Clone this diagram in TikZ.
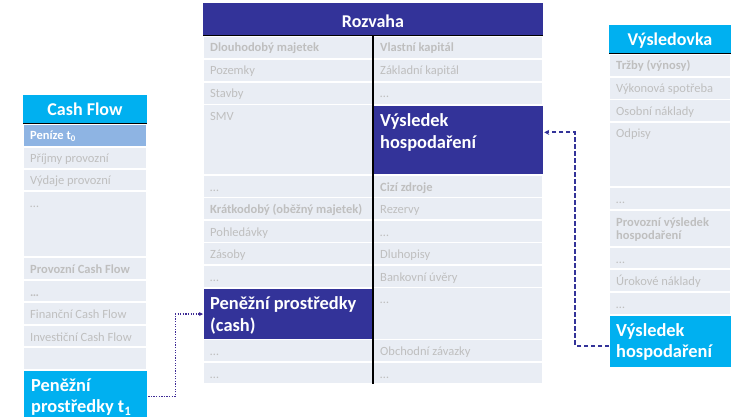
\documentclass[tikz,border=0pt]{standalone}
\usepackage{fontspec}
\setmainfont{Carlito}
\usetikzlibrary{arrows.meta}
\definecolor{cyanhdr}{HTML}{00B0F0}
\definecolor{navy}{HTML}{333399}
\definecolor{rowfill}{HTML}{E9EDF4}
\definecolor{rowtext}{HTML}{BFBFBF}
\definecolor{lightblue}{HTML}{8EB4E3}
\tikzset{
  cell/.style={draw=white, line width=1.2pt},
  rowlbl/.style={anchor=base west, inner sep=0pt, text=rowtext, align=left,
    font=\fontsize{12.5}{13.5}\selectfont},
  rowbold/.style={rowlbl, font=\fontsize{12.5}{13.5}\selectfont\bfseries},
  rowwhite/.style={rowbold, text=white},
  hdrbox/.style={inner sep=0pt, anchor=north west, draw=none},
  hdrtext/.style={anchor=base, inner sep=0pt, text=white,
    font=\fontsize{18}{21}\selectfont\bfseries},
  bigtext/.style={anchor=base west, inner sep=0pt, text=white, align=left,
    font=\fontsize{18.4}{21.5}\selectfont\bfseries},
  block/.style={draw=white, line width=1.2pt, inner sep=0pt, anchor=north west},
  hdrline/.style={black, line width=1pt},
  divline/.style={black, line width=1.4pt},
  flowdash/.style={navy, line width=1.9pt, dash pattern=on 4.5pt off 2.5pt,
    -{Stealth[length=5pt,width=5pt]}},
  flowdot/.style={navy!85!violet, line width=1.4pt, dash pattern=on 1.3pt off 1.3pt,
    -{Stealth[length=4pt,width=4pt]}},
}
% [fill]{name}{x1}{y1}{x2}{y2}{style}{text}
\newcommand\trow[8][rowfill]{%
  \path[cell, fill=#1] (#3,#4) rectangle (#5,#6);
  \node[#7] (#2) at (#3+7,#4+16) {#8};
}
\begin{document}
\begin{tikzpicture}[x=1pt, y=-1pt]
\useasboundingbox (0,0) rectangle (731,417);

% ---------------- Cash Flow ----------------
\node[hdrbox, fill=cyanhdr, minimum width=124pt, minimum height=29pt] (cfh) at (23,95) {};
\node[hdrtext] (cft) at (85,116) {Cash Flow};
\trow[lightblue]{cf1}{23}{124}{147}{147}{rowwhite}{Peníze t\textsubscript{0}}
\trow{cf2}{23}{147}{147}{169}{rowlbl}{Příjmy provozní}
\trow{cf3}{23}{169}{147}{191}{rowlbl}{Výdaje provozní}
\trow{cf4}{23}{191}{147}{257}{rowlbl}{…}
\trow{cf5}{23}{257}{147}{280}{rowbold}{Provozní Cash Flow}
\trow{cf6}{23}{280}{147}{302}{rowbold}{…}
\trow{cf7}{23}{302}{147}{325}{rowlbl}{Finanční Cash Flow}
\trow{cf8}{23}{325}{147}{347}{rowlbl}{Investiční Cash Flow}
\trow{cf9}{23}{347}{147}{370}{rowlbl}{}
\node[block, fill=cyanhdr, minimum width=124pt, minimum height=49pt] (pt1) at (23,370) {};
\node[bigtext] (pt1t) at (31,412.5) {Peněžní\\prostředky t\textsubscript{1}};
\draw[hdrline] (23,124) -- (147,124);

% ---------------- Rozvaha ----------------
\node[hdrbox, fill=navy, minimum width=340pt, minimum height=33pt] (rzh) at (203,3) {};
\node[hdrtext] (rzt) at (373,28) {Rozvaha};
% left side
\trow{a1}{203}{36}{373}{59}{rowbold}{Dlouhodobý majetek}
\trow{a2}{203}{59}{373}{82}{rowlbl}{Pozemky}
\trow{a3}{203}{82}{373}{104.5}{rowlbl}{Stavby}
\trow{a4}{203}{104.5}{373}{175}{rowlbl}{SMV}
\trow{a5}{203}{175}{373}{197.5}{rowlbl}{…}
\trow{a6}{203}{197.5}{373}{220}{rowbold}{Krátkodobý (oběžný majetek)}
\trow{a7}{203}{220}{373}{242.5}{rowlbl}{Pohledávky}
\trow{a8}{203}{242.5}{373}{265}{rowlbl}{Zásoby}
\trow{a9}{203}{265}{373}{287.5}{rowlbl}{…}
\node[block, fill=navy, minimum width=170pt, minimum height=52pt] (pp) at (203,287.5) {};
\node[bigtext] (ppt) at (210,331) {Peněžní prostředky\\(cash)};
\trow{a10}{203}{339.5}{373}{362}{rowlbl}{…}
\trow{a11}{203}{362}{373}{384}{rowlbl}{…}
% right side
\trow{p1}{373}{36}{543}{59}{rowbold}{Vlastní kapitál}
\trow{p2}{373}{59}{543}{82}{rowlbl}{Základní kapitál}
\trow{p3}{373}{82}{543}{104.5}{rowlbl}{…}
\node[block, fill=navy, minimum width=170pt, minimum height=70.5pt] (vh1) at (373,104.5) {};
\node[bigtext] (vh1t) at (380,148.5) {Výsledek\\hospodaření};
\trow{p4}{373}{175}{543}{197.5}{rowbold}{Cizí zdroje}
\trow{p5}{373}{197.5}{543}{220}{rowlbl}{Rezervy}
\trow{p6}{373}{220}{543}{242.5}{rowlbl}{…}
\trow{p7}{373}{242.5}{543}{265}{rowlbl}{Dluhopisy}
\trow{p8}{373}{265}{543}{287.5}{rowlbl}{Bankovní úvěry}
\trow{p9}{373}{287.5}{543}{339.5}{rowlbl}{…}
\trow{p10}{373}{339.5}{543}{362}{rowlbl}{Obchodní závazky}
\trow{p11}{373}{362}{543}{384}{rowlbl}{…}
\draw[hdrline] (203,36) -- (543,36);
\draw[divline] (373,36) -- (373,384);

% ---------------- Výsledovka ----------------
\node[hdrbox, fill=cyanhdr, minimum width=122pt, minimum height=29pt] (vyh) at (609,25) {};
\node[hdrtext] (vyt) at (670,46) {Výsledovka};
\trow{v1}{609}{54}{731}{77}{rowbold}{Tržby (výnosy)}
\trow{v2}{609}{77}{731}{99.5}{rowlbl}{Výkonová spotřeba}
\trow{v3}{609}{99.5}{731}{122}{rowlbl}{Osobní náklady}
\trow{v4}{609}{122}{731}{187}{rowlbl}{Odpisy}
\trow{v5}{609}{187}{731}{210}{rowlbl}{…}
\path[cell, fill=rowfill] (609,210) rectangle (731,247);
\node[rowbold] (v6) at (616,239.5) {Provozní výsledek\\hospodaření};
\trow{v7}{609}{247}{731}{269}{rowlbl}{…}
\trow{v8}{609}{269}{731}{292}{rowlbl}{Úrokové náklady}
\trow{v9}{609}{292}{731}{315}{rowlbl}{…}
\node[block, fill=cyanhdr, minimum width=122pt, minimum height=52pt] (vh2) at (609,315) {};
\node[bigtext] (vh2t) at (616,357.5) {Výsledek\\hospodaření};
\draw[hdrline] (609,54) -- (731,54);

% ---------------- Connectors ----------------
\draw[flowdash] ([yshift=-4pt]vh2.west) -- ++(-34,0) |- ([yshift=8pt]vh1.east);
\draw[flowdot] ([yshift=-1.5pt]pt1.east) -- ++(27,0) |- (pp.west);
\end{tikzpicture}
\end{document}
